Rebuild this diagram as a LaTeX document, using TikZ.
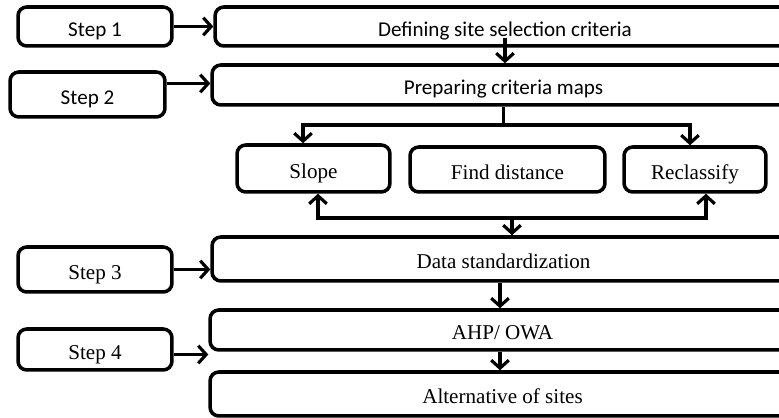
\documentclass[tikz,border=0pt]{standalone}
\usepackage{fontspec}
\setmainfont{Liberation Serif}
\newfontfamily\calibri{Carlito}
\usetikzlibrary{arrows.meta}

\tikzset{
  BoxStyle/.style  = {draw, line width=2pt, rounded corners=5pt, inner sep=0pt,
                      text height=11pt, text depth=0pt,
                      font=\fontsize{12}{14}\selectfont},
  CalStyle/.style  = {BoxStyle, font=\calibri\fontsize{12}{14}\selectfont},
  EdgeStyle/.style = {line width=1.8pt, -{Straight Barb[length=4.5pt,width=10pt]}},
  LineStyle/.style = {line width=1.8pt}
}

\begin{document}
\begin{tikzpicture}[x=0.02cm, y=-0.02cm]
\clip (0,0) rectangle (779,418);
% step boxes on the left
\node[CalStyle, minimum width=3.08cm, minimum height=0.78cm] (step1) at (95,26.5) {Step 1};
\node[CalStyle, minimum width=3.1cm, minimum height=0.9cm] (step2) at (87.5,94.5) {Step 2};
\node[BoxStyle, minimum width=3.08cm, minimum height=0.9cm] (step3) at (95,269.5) {Step 3};
\node[BoxStyle, minimum width=3.08cm, minimum height=0.82cm] (step4) at (95,349.5) {Step 4};
% main boxes
\node[CalStyle, minimum width=11.6cm, minimum height=0.78cm] (define) at (505,26.5) {Defining site selection criteria};
\node[CalStyle, minimum width=11.66cm, minimum height=0.8cm] (prepare) at (503.5,85) {Preparing criteria maps};
\node[BoxStyle, minimum width=3.06cm, minimum height=0.94cm] (slope) at (313.5,168.5) {Slope};
\node[BoxStyle, minimum width=3.9cm, minimum height=0.9cm] (distance) at (507.5,169.5) {Find distance};
\node[BoxStyle, minimum width=2.84cm, minimum height=0.9cm] (reclass) at (695,169.5) {Reclassify};
\node[BoxStyle, minimum width=11.66cm, minimum height=0.88cm] (standard) at (503.5,259) {Data standardization};
\node[BoxStyle, minimum width=11.7cm, minimum height=0.8cm] (ahp) at (502.5,330) {AHP/ OWA};
\node[BoxStyle, minimum width=11.7cm, minimum height=0.88cm] (sites) at (502.5,394) {Alternative of sites};
\coordinate (split) at (502,125);
\coordinate (merge) at (512,218);
% connectors
\draw[EdgeStyle] (step1.east) -- (define.west);
\draw[EdgeStyle] ([yshift=0.2cm]define.south) -- (define.south |- prepare.north);
\draw[EdgeStyle] ([yshift=0.22cm]step2.east) -- ([yshift=0.22cm]step2.east -| prepare.west);
\draw[LineStyle] (prepare.south) -- (prepare.south |- split);
\draw[EdgeStyle] (split) -| ([xshift=-0.21cm]slope.north);
\draw[EdgeStyle] (split) -| ([xshift=-0.1cm]reclass.north);
\draw[EdgeStyle] (merge) -| ([xshift=0.09cm]slope.south);
\draw[EdgeStyle] (merge) -| ([xshift=0.22cm]reclass.south);
\draw[EdgeStyle] (merge) -- (merge |- standard.north);
\draw[EdgeStyle] (step3.east) -- (step3.east -| standard.west);
\draw[EdgeStyle] ([xshift=-0.07cm]standard.south) -- ([xshift=-0.07cm]standard.south |- ahp.north);
\draw[EdgeStyle] ([yshift=-0.1cm]step4.east) -- ([yshift=-0.1cm]step4.east -| ahp.west);
\draw[EdgeStyle] ([xshift=-0.05cm]ahp.south) -- ([xshift=-0.05cm]ahp.south |- sites.north);
\end{tikzpicture}
\end{document}
